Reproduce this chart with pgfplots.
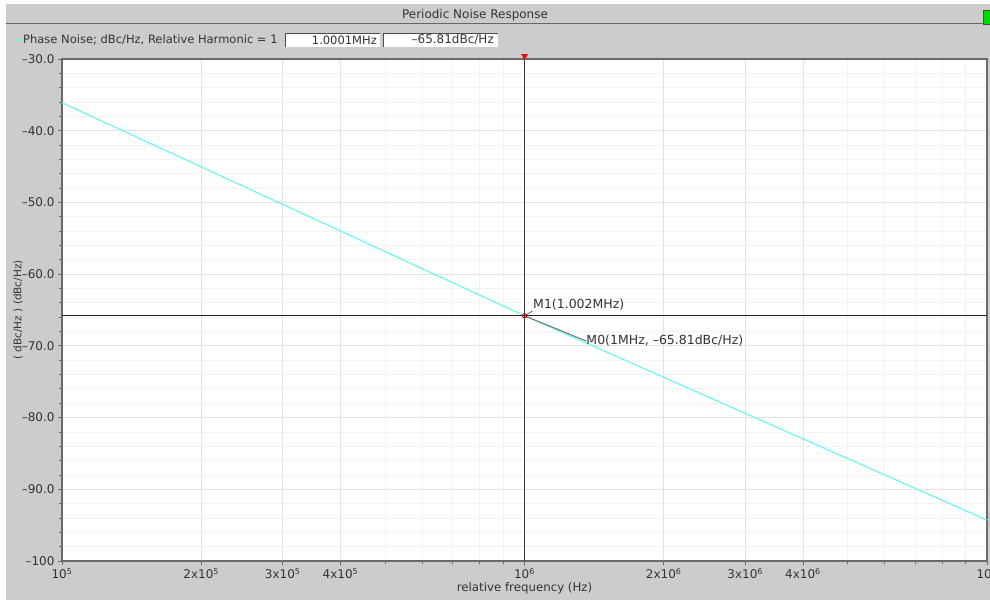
\documentclass[border=0pt]{standalone}
\usepackage{fontspec}
\setmainfont{DejaVu Sans}
\usepackage{pgfplots}
\pgfplotsset{compat=1.18}
\definecolor{bg}{HTML}{CCCCCC}
\definecolor{cyanline}{HTML}{70F4F4}
\definecolor{gridmaj}{HTML}{E2E2E2}
\definecolor{gridmin}{HTML}{F2F2F2}
\definecolor{axisc}{HTML}{6A6A6A}
\definecolor{txt}{HTML}{333333}
\begin{document}
\begin{tikzpicture}[x=1pt,y=1pt]
\fill[white] (0,0) rectangle (990,604);
\fill[bg] (6,4) rectangle (990,600);
\draw[black!60, line width=1pt] (6,580) -- (983,580);
\node[font=\fontsize{12}{14}\selectfont, text=txt] at (475,589) {Periodic Noise Response};
\fill[green!85!black, draw=black!70] (983,580) rectangle (992,594);
% legend row
\draw[cyanline, line width=2.5pt] (15,564) -- (22,564);
\node[font=\fontsize{11.5}{14}\selectfont, text=txt, anchor=west, inner sep=0pt] at (23,564) {Phase Noise; dBc/Hz, Relative Harmonic = 1};
\fill[white] (285,557) rectangle (380,571);
\draw[black!70] (285,557) -- (285,571) -- (380,571);
\node[font=\fontsize{11.5}{14}\selectfont, text=txt, anchor=east, inner sep=0pt] at (377,564) {1.0001MHz};
\fill[white] (383,557) rectangle (498,571);
\draw[black!70] (383,557) -- (383,571) -- (498,571);
\node[font=\fontsize{12}{14}\selectfont, text=txt, anchor=east, inner sep=0pt] at (494,564) {–65.81dBc/Hz};
\begin{axis}[
  at={(62pt,43pt)}, anchor=south west,
  scale only axis, width=925pt, height=502pt,
  xmode=log, xmin=1e5, xmax=1e7, ymin=-100, ymax=-30,
  clip=false,
  axis background/.style={fill=white},
  axis line style={axisc, line width=1.3pt},
  xtick={1e5,2e5,3e5,4e5,1e6,2e6,3e6,4e6,1e7},
  xticklabels={10\textsuperscript{5},2x10\textsuperscript{5},3x10\textsuperscript{5},4x10\textsuperscript{5},10\textsuperscript{6},2x10\textsuperscript{6},3x10\textsuperscript{6},4x10\textsuperscript{6},10\textsuperscript{7}},
  minor xtick={5e5,6e5,7e5,8e5,9e5,5e6,6e6,7e6,8e6,9e6},
  ytick={-100,-90,-80,-70,-60,-50,-40,-30},
  yticklabels={–100,–90.0,–80.0,–70.0,–60.0,–50.0,–40.0,–30.0},
  minor ytick={-98,-96,...,-32},
  xtick pos=left, ytick pos=left,
  tick align=outside,
  major tick length=4pt, minor tick length=3pt,
  every tick/.style={axisc, line width=0.8pt},
  grid=both,
  major grid style={gridmaj, line width=0.8pt},
  minor grid style={gridmin, line width=0.8pt},
  tick label style={font=\fontsize{12}{14}\selectfont, text=txt},
  xlabel={relative frequency (Hz)},
  ylabel={( dBc/Hz ) (dBc/Hz)},
  xlabel style={font=\fontsize{11.8}{14}\selectfont, text=txt, at={(axis description cs:0.5,0)}, anchor=center, yshift=-27pt},
  ylabel style={font=\fontsize{10.5}{12}\selectfont, text=txt, at={(axis description cs:0,0.5)}, anchor=center, yshift=44pt},
]
\addplot[cyanline, line width=1.2pt] coordinates {(1e5,-36.1) (1e6,-65.81) (1e7,-94.3)};
\addplot[black!75, line width=0.9pt] coordinates {(1e6,-100) (1e6,-30)};
\addplot[black!85, line width=0.9pt] coordinates {(1e5,-65.81) (1e7,-65.81)};
\addplot[black!55, line width=1pt] coordinates {(1e6,-65.81) (1.36e6,-69.33)};
\addplot[black!70, line width=0.7pt] coordinates {(1e6,-65.81) (1.0407e6,-65.14)};
\addplot[only marks, mark=o, mark size=2.2pt, mark options={red!70!black, line width=0.8pt}] coordinates {(1e6,-65.81)};
\addplot[only marks, mark=triangle*, mark size=3.5pt, mark options={red, rotate=180, yshift=-3pt}] coordinates {(1e6,-30)};
\node[font=\fontsize{12.5}{14}\selectfont, text=txt, anchor=south west, inner sep=0.5pt] at (axis cs:1.0407e6,-65.14) {M1(1.002MHz)};
\node[font=\fontsize{12.5}{14}\selectfont, text=txt, anchor=west, inner sep=0pt] at (axis cs:1.36e6,-69.33) {M0(1MHz, –65.81dBc/Hz)};
\end{axis}
\pgfresetboundingbox
\useasboundingbox (0,0) rectangle (990,604);
\end{tikzpicture}
\end{document}
